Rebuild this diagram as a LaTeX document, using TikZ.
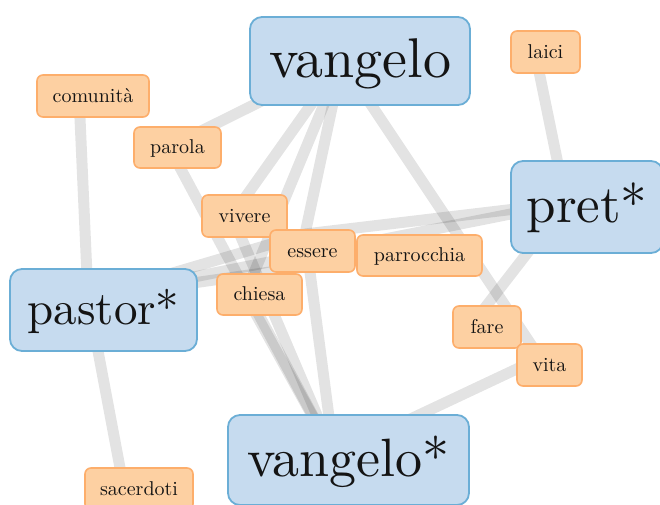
\documentclass[tikz,border=0pt]{standalone}
\usepackage{fontspec}
\setmainfont{lmroman10-regular.otf}
\usetikzlibrary{calc}

\pgfdeclarelayer{bg}
\pgfsetlayers{bg,main}

% d3-style palette: blue for the key terms, orange for co-occurring words
\definecolor{termfill}{HTML}{C6DBEF}
\definecolor{termline}{HTML}{6BAED6}
\definecolor{wordfill}{HTML}{FDD0A2}
\definecolor{wordline}{HTML}{FDAE6B}
\definecolor{ink}{HTML}{141414}

% label with a fixed height/depth so every box puts its baseline alike
\newcommand{\boxtext}[1]{\rule[-0.1em]{0pt}{0.8em}\smash{#1}}

\tikzset{
  term/.style={draw=termline, fill=termfill, line width=1.8pt,
    rounded corners=12pt, inner sep=0pt, text=ink,
    font=\fontsize{#1pt}{#1pt}\selectfont},
  word/.style={draw=wordline, fill=wordfill, line width=1.6pt,
    rounded corners=6pt, inner sep=0pt, text=ink,
    font=\fontsize{20pt}{20pt}\selectfont},
  link/.style={draw=black, draw opacity=0.11, line width=11pt}
}

\begin{document}
\begin{tikzpicture}[x=1pt, y=-1pt]
  \useasboundingbox (0,0) rectangle (660,504);

  % key terms
  \node[term=56, minimum width=220pt, minimum height=88pt] (vangelo) at (360,61) {\boxtext{vangelo}};
  \node[term=53, minimum width=152pt, minimum height=92pt] (pret) at (587,207) {\boxtext{pret*}};
  \node[term=47, minimum width=187pt, minimum height=82pt] (pastor) at (103.5,310) {\boxtext{pastor*}};
  \node[term=54, minimum width=241pt, minimum height=90pt] (vangelostar) at (348.5,460) {\boxtext{vangelo*}};

  % co-occurring words (drawn in stacking order)
  \node[word, minimum width=69pt, minimum height=42pt] (laici) at (545.5,52) {\boxtext{laici}};
  \node[word, minimum width=112pt, minimum height=42pt] (comunita) at (93,96) {\boxtext{comunità}};
  \node[word, minimum width=87pt, minimum height=41pt] (parola) at (177.5,147.5) {\boxtext{parola}};
  \node[word, minimum width=85pt, minimum height=42pt] (vivere) at (244.5,216) {\boxtext{vivere}};
  \node[word, minimum width=85pt, minimum height=42pt] (essere) at (312.5,251) {\boxtext{essere}};
  \node[word, minimum width=125pt, minimum height=41pt] (parrocchia) at (419.5,255.5) {\boxtext{parrocchia}};
  \node[word, minimum width=85pt, minimum height=41pt] (chiesa) at (259.5,294.5) {\boxtext{chiesa}};
  \node[word, minimum width=68pt, minimum height=42pt] (fare) at (487,327) {\boxtext{fare}};
  \node[word, minimum width=65pt, minimum height=42pt] (vita) at (549.5,365) {\boxtext{vita}};
  \node[word, minimum width=108pt, minimum height=42pt] (sacerdoti) at (139,489) {\boxtext{sacerdoti}};

  \begin{pgfonlayer}{bg}
    \fill[white] (0,0) rectangle (660,504);

    % attachment points of the links inside each box
    \coordinate (aV) at ($(vangelo)+(-18,0)$);
    \coordinate (aP) at ($(pret)+(-21,-4)$);
    \coordinate (aS) at ($(pastor)+(-15.5,-12)$);
    \coordinate (aW) at ($(vangelostar)+(-14.5,-5)$);
    \coordinate (aLai) at ($(laici)+(-10.5,0)$);
    \coordinate (aCom) at ($(comunita)+(-14,0)$);
    \coordinate (aSac) at ($(sacerdoti)+(-15,0)$);
    \coordinate (aPar) at ($(parola)+(-8.5,-0.5)$);
    \coordinate (aViv) at ($(vivere)+(-12.5,0)$);
    \coordinate (aEss) at ($(essere)+(-7.5,-17)$);
    \coordinate (aPrr) at ($(parrocchia)+(-9.5,-3.5)$);
    \coordinate (aChi) at ($(chiesa)+(-14.5,0)$);
    \coordinate (aFar) at ($(fare)+(-17,0)$);
    \coordinate (aVit) at ($(vita)+(-9.5,-7)$);

    \draw[link] (aCom) -- (aS);
    \draw[link] (aS) -- (aSac);
    \draw[link] (aLai) -- (aP);
    \draw[link] (aV) -- (aPar);
    \draw[link] (aV) -- (aViv);
    \draw[link] (aV) -- (aChi);
    \draw[link] (aV) -- (aEss);
    \draw[link] (aV) -- (aVit);
    \draw[link] (aP) -- (aFar);
    \draw[link] (aVit) -- (aW);
    \draw[link] (aPar) -- (aW);
    \draw[link] (aViv) -- (aW);
    \draw[link] (aChi) -- (aW);
    \draw[link] (aEss) -- (aW);
    \draw[link] (aS) -- (aEss);
    \draw[link] (aS) -- (aPrr);
    \draw[link] (aS) -- (aP);
    \draw[link] (aEss) -- (aP);
  \end{pgfonlayer}
\end{tikzpicture}
\end{document}
